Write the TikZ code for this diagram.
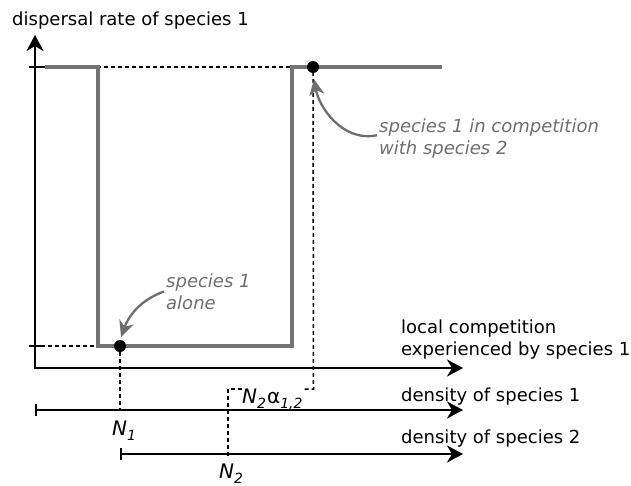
\documentclass[tikz,border=0pt]{standalone}
\usepackage{fontspec}
\setmainfont{DejaVu Sans}
\usepackage{tikz}
\usetikzlibrary{arrows.meta,calc}

% subscripts of the density labels
\newcommand{\lowsub}[1]{\raisebox{-5pt}{\fontsize{14}{14}\selectfont\itshape #1}}

\begin{document}
\begin{tikzpicture}[
  x=1pt,
  y=1pt,
  >=Stealth,
  font=\fontsize{18}{22}\selectfont,
  axisline/.style={line width=2.3pt,draw=black,
    {Stealth[length=16pt,width=17pt,inset=5pt]}-{Stealth[length=16pt,width=17pt,inset=5pt]}},
  densaxis/.style={line width=2.3pt,draw=black,
    {Bar[width=12pt,line width=2.3pt]}-{Stealth[length=16pt,width=17pt,inset=5pt]}},
  tickmark/.style={line width=2.3pt,draw=black},
  rate/.style={line width=4.4pt,draw=rategray},
  guide/.style={line width=1.5pt,dash pattern=on 4pt off 3pt},
  dot/.style={circle,fill=black,inner sep=0pt,minimum size=12pt},
  remark/.style={font=\fontsize{18}{22}\selectfont\itshape,text=notegray,
    align=left,inner sep=2pt},
  remarkarrow/.style={line width=2.3pt,draw=notegray,
    -{Stealth[length=16pt,width=15pt,inset=5pt]}},
  label/.style={inner sep=0pt},
  density/.style={inner sep=0pt,font=\fontsize{20}{24}\selectfont}
]
  \definecolor{rategray}{HTML}{737373}
  \definecolor{notegray}{HTML}{6E6E6E}

  \useasboundingbox (0,0) rectangle (631,-485);

  % axes
  \coordinate (O) at (35,-368);
  \coordinate (ytop) at (35,-35);
  \coordinate (xend) at (463,-368);
  \draw[axisline] (ytop) -- (O) -- (xend);

  \node[label,anchor=base west] (ylab) at (12,-25) {dispersal rate of species 1};
  \node[label,anchor=north west,align=left] (xlab) at (401,-319.3)
    {local competition\\experienced by species 1};

  % levels of dispersal
  \coordinate (dhigh) at (35,-67);
  \coordinate (dlow) at (35,-346);
  \draw[tickmark] ([xshift=-6pt]dhigh) -- ([xshift=6pt]dhigh);
  \draw[tickmark] ([xshift=-6pt]dlow) -- ([xshift=6pt]dlow);

  \coordinate (r0) at (45,-67);
  \coordinate (r1) at (98,-346);
  \coordinate (r2) at (292,-67);
  \coordinate (r3) at (442,-67);
  \draw[guide] ([xshift=6pt]dhigh) -- (r2);
  \draw[guide] ([xshift=6pt]dlow) -- (r1);
  \draw[rate] (r0) -| (r1) -| (r2) -- (r3);

  % density axes
  \coordinate (s1start) at (35,-410);
  \coordinate (s1end) at (463,-410);
  \coordinate (s2start) at (120,-454);
  \coordinate (s2end) at (463,-454);
  \draw[densaxis] (s1start) -- (s1end);
  \draw[densaxis] (s2start) -- (s2end);
  \node[label,anchor=base west] (s1lab) at (401,-401) {density of species 1};
  \node[label,anchor=base west] (s2lab) at (401,-443) {density of species 2};

  % species 1 alone
  \node[dot] (alone) at (120,-346) {};
  \draw[guide] (alone) -- (alone |- s1start);
  \node[density,anchor=base] (N1) at (124,-435) {\textit{N}\lowsub{1}};

  % species 1 with species 2
  \node[dot] (comp) at (313,-67) {};
  \coordinate (n2) at (228,-456);
  \coordinate (kinkL) at (228,-389);
  \coordinate (kinkR) at (313.5,-389);
  \node[density,anchor=base] (N2) at (231,-478) {\textit{N}\lowsub{2}};
  \node[density,anchor=base west] (Nalpha) at (242,-403)
    {\textit{N}\lowsub{2}\kern1ptα\lowsub{1,2}};
  \draw[guide] (n2) -- (kinkL) -- (kinkL -| Nalpha.west);
  \draw[guide] ([xshift=2pt]kinkR -| Nalpha.east) -- (kinkR) -- (comp);

  % remarks
  \node[remark,anchor=north west] (aloneTxt) at (164,-271.3)
    {species 1\\alone};
  \draw[remarkarrow,shorten >=3pt] (aloneTxt.west) to[out=200,in=70] (alone.north);
  \node[remark,anchor=north west] (compTxt) at (377,-116.3)
    {species 1 in competition\\with species 2};
  \draw[remarkarrow,shorten >=6pt] ([yshift=3pt]compTxt.west) to[out=192,in=-80] (comp.south);
\end{tikzpicture}
\end{document}
